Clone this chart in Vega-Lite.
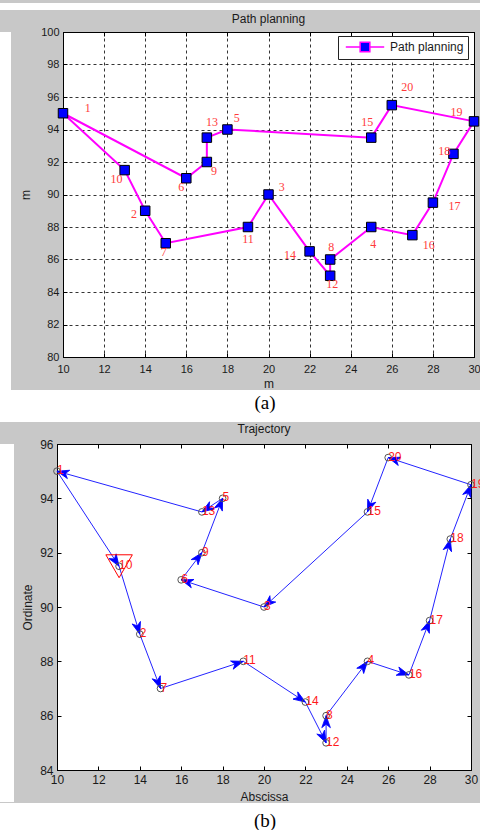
{
  "$schema": "https://vega.github.io/schema/vega-lite/v6.json",
  "background": "#c8c8c8",
  "padding": 0,
  "spacing": 0,
  "config": {
    "concat": {"spacing": 0},
    "view": {"stroke": "black"},
    "axis": {"labelFont": "Liberation Sans", "titleFont": "Liberation Sans", "labelColor": "#1a1a1a", "titleColor": "#1a1a1a", "titleFontWeight": "normal", "domainColor": "black", "tickColor": "black", "labelFlush": false, "labelOverlap": false},
    "title": {"font": "Liberation Sans", "fontWeight": "normal", "fontSize": 12, "color": "#1a1a1a"}
  },
  "datasets": {
    "pts": [
      {"id": "1", "x": 10, "y": 95, "lx": 11.2, "ly": 95.3},
      {"id": "2", "x": 14, "y": 89, "lx": 13.45, "ly": 88.8},
      {"id": "3", "x": 20, "y": 90, "lx": 20.65, "ly": 90.45},
      {"id": "4", "x": 25, "y": 88, "lx": 25.1, "ly": 86.95},
      {"id": "5", "x": 18, "y": 94, "lx": 18.45, "ly": 94.7},
      {"id": "6", "x": 16, "y": 91, "lx": 15.75, "ly": 90.45},
      {"id": "7", "x": 15, "y": 87, "lx": 14.9, "ly": 86.45},
      {"id": "8", "x": 23, "y": 86, "lx": 23.05, "ly": 86.75},
      {"id": "9", "x": 17, "y": 92, "lx": 17.35, "ly": 91.45},
      {"id": "10", "x": 13, "y": 91.5, "lx": 12.6, "ly": 90.95},
      {"id": "11", "x": 19, "y": 88, "lx": 19.0, "ly": 87.25},
      {"id": "12", "x": 23, "y": 85, "lx": 23.1, "ly": 84.5},
      {"id": "13", "x": 17, "y": 93.5, "lx": 17.25, "ly": 94.45},
      {"id": "14", "x": 22, "y": 86.5, "lx": 21.05, "ly": 86.3},
      {"id": "15", "x": 25, "y": 93.5, "lx": 24.8, "ly": 94.45},
      {"id": "16", "x": 27, "y": 87.5, "lx": 27.8, "ly": 86.9},
      {"id": "17", "x": 28, "y": 89.5, "lx": 29.05, "ly": 89.3},
      {"id": "18", "x": 29, "y": 92.5, "lx": 28.55, "ly": 92.7},
      {"id": "19", "x": 30, "y": 94.5, "lx": 29.15, "ly": 95.1},
      {"id": "20", "x": 26, "y": 95.5, "lx": 26.75, "ly": 96.6}
    ],
    "pathA": [
      {"step": 1, "node": "1", "x": 10, "y": 95, "series": "Path planning"},
      {"step": 2, "node": "10", "x": 13, "y": 91.5, "series": "Path planning"},
      {"step": 3, "node": "2", "x": 14, "y": 89, "series": "Path planning"},
      {"step": 4, "node": "7", "x": 15, "y": 87, "series": "Path planning"},
      {"step": 5, "node": "11", "x": 19, "y": 88, "series": "Path planning"},
      {"step": 6, "node": "3", "x": 20, "y": 90, "series": "Path planning"},
      {"step": 7, "node": "14", "x": 22, "y": 86.5, "series": "Path planning"},
      {"step": 8, "node": "12", "x": 23, "y": 85, "series": "Path planning"},
      {"step": 9, "node": "8", "x": 23, "y": 86, "series": "Path planning"},
      {"step": 10, "node": "4", "x": 25, "y": 88, "series": "Path planning"},
      {"step": 11, "node": "16", "x": 27, "y": 87.5, "series": "Path planning"},
      {"step": 12, "node": "17", "x": 28, "y": 89.5, "series": "Path planning"},
      {"step": 13, "node": "18", "x": 29, "y": 92.5, "series": "Path planning"},
      {"step": 14, "node": "19", "x": 30, "y": 94.5, "series": "Path planning"},
      {"step": 15, "node": "20", "x": 26, "y": 95.5, "series": "Path planning"},
      {"step": 16, "node": "15", "x": 25, "y": 93.5, "series": "Path planning"},
      {"step": 17, "node": "5", "x": 18, "y": 94, "series": "Path planning"},
      {"step": 18, "node": "13", "x": 17, "y": 93.5, "series": "Path planning"},
      {"step": 19, "node": "9", "x": 17, "y": 92, "series": "Path planning"},
      {"step": 20, "node": "6", "x": 16, "y": 91, "series": "Path planning"},
      {"step": 21, "node": "1", "x": 10, "y": 95, "series": "Path planning"}
    ],
    "segs": [
      {"from": "1", "to": "10", "x": 10, "y": 95, "x2": 13, "y2": 91.5},
      {"from": "10", "to": "2", "x": 13, "y": 91.5, "x2": 14, "y2": 89},
      {"from": "2", "to": "7", "x": 14, "y": 89, "x2": 15, "y2": 87},
      {"from": "7", "to": "11", "x": 15, "y": 87, "x2": 19, "y2": 88},
      {"from": "11", "to": "14", "x": 19, "y": 88, "x2": 22, "y2": 86.5},
      {"from": "14", "to": "12", "x": 22, "y": 86.5, "x2": 23, "y2": 85},
      {"from": "12", "to": "8", "x": 23, "y": 85, "x2": 23, "y2": 86},
      {"from": "8", "to": "4", "x": 23, "y": 86, "x2": 25, "y2": 88},
      {"from": "4", "to": "16", "x": 25, "y": 88, "x2": 27, "y2": 87.5},
      {"from": "16", "to": "17", "x": 27, "y": 87.5, "x2": 28, "y2": 89.5},
      {"from": "17", "to": "18", "x": 28, "y": 89.5, "x2": 29, "y2": 92.5},
      {"from": "18", "to": "19", "x": 29, "y": 92.5, "x2": 30, "y2": 94.5},
      {"from": "19", "to": "20", "x": 30, "y": 94.5, "x2": 26, "y2": 95.5},
      {"from": "20", "to": "15", "x": 26, "y": 95.5, "x2": 25, "y2": 93.5},
      {"from": "15", "to": "3", "x": 25, "y": 93.5, "x2": 20, "y2": 90},
      {"from": "3", "to": "6", "x": 20, "y": 90, "x2": 16, "y2": 91},
      {"from": "6", "to": "9", "x": 16, "y": 91, "x2": 17, "y2": 92},
      {"from": "9", "to": "5", "x": 17, "y": 92, "x2": 18, "y2": 94},
      {"from": "5", "to": "13", "x": 18, "y": 94, "x2": 17, "y2": 93.5},
      {"from": "13", "to": "1", "x": 17, "y": 93.5, "x2": 10, "y2": 95}
    ],
    "start": [{"id": "10", "x": 13, "y": 91.5}],
    "capA": [{"c": "(a)"}],
    "capB": [{"c": "(b)"}],
    "blank": [{"c": ""}]
  },
  "vconcat": [
    {
      "width": 480, "height": 7,
      "view": {"fill": "white", "stroke": null},
      "data": {"name": "blank"},
      "mark": {"type": "text"},
      "encoding": {"text": {"field": "c"}}
    },
    {
      "spacing": 8,
      "hconcat": [
        {
          "width": 11, "height": 358,
          "view": {"fill": "white", "stroke": null},
          "data": {"name": "blank"},
          "mark": {"type": "text"},
          "encoding": {"text": {"field": "c"}}
        },
        {
          "width": 411, "height": 325,
          "title": {"text": "Path planning", "offset": 0},
          "view": {"fill": "white", "stroke": "black"},
          "resolve": {"axis": {"x": "independent", "y": "independent"}},
          "layer": [
            {
              "data": {"name": "pathA"},
              "mark": {"type": "line", "color": "#ff00ff", "strokeWidth": 2},
              "encoding": {
                "x": {"field": "x", "type": "quantitative", "scale": {"domain": [10, 30], "nice": false, "zero": false},
                  "axis": {"orient": "bottom", "values": [10, 12, 14, 16, 18, 20, 22, 24, 26, 28, 30], "grid": true, "gridColor": "black", "gridDash": [3, 3], "gridOpacity": 1, "gridWidth": 0.8, "tickSize": -4, "labelPadding": 10, "labelFontSize": 11, "title": "m", "titleFontSize": 12, "titlePadding": 4}},
                "y": {"field": "y", "type": "quantitative", "scale": {"domain": [80, 100], "nice": false, "zero": false},
                  "axis": {"orient": "left", "values": [80, 82, 84, 86, 88, 90, 92, 94, 96, 98, 100], "grid": true, "gridColor": "black", "gridDash": [3, 3], "gridOpacity": 1, "gridWidth": 0.8, "tickSize": -4, "labelPadding": 8, "labelFontSize": 11, "title": "m", "titleFontSize": 12, "titlePadding": 8}},
                "order": {"field": "step", "type": "quantitative"},
                "color": {"field": "series", "type": "nominal", "scale": {"range": ["#ff00ff"]},
                  "legend": {"orient": "none", "legendX": 338, "legendY": 33, "title": null, "fillColor": "white", "strokeColor": "#222222", "padding": 4, "symbolType": "M-3.2,0H-0.8M0.8,0H3.2M-0.8,-0.8H0.8V0.8H-0.8Z", "symbolSize": 144, "symbolStrokeWidth": 1.6, "symbolOffset": 16, "labelOffset": 18, "labelFontSize": 12, "labelFont": "Liberation Sans", "labelColor": "#1a1a1a",
                    "encode": {"symbols": {"update": {"fill": {"value": "#0000ff"}, "stroke": {"value": "#ff00ff"}, "opacity": {"value": 1}, "fillOpacity": {"value": 1}}}}}}
              }
            },
            {
              "data": {"name": "pts"},
              "mark": {"type": "point", "shape": "square", "filled": true, "fill": "#0000ff", "stroke": "black", "strokeWidth": 1, "size": 90, "opacity": 1},
              "encoding": {
                "x": {"field": "x", "type": "quantitative", "scale": {"domain": [10, 30], "nice": false, "zero": false}, "axis": null},
                "y": {"field": "y", "type": "quantitative", "scale": {"domain": [80, 100], "nice": false, "zero": false}, "axis": null}
              }
            },
            {
              "data": {"name": "pts"},
              "mark": {"type": "text", "font": "Liberation Serif", "fontSize": 12, "color": "#ff3b3b"},
              "encoding": {
                "x": {"field": "lx", "type": "quantitative", "scale": {"domain": [10, 30], "nice": false, "zero": false},
                  "axis": {"orient": "top", "values": [10, 12, 14, 16, 18, 20, 22, 24, 26, 28, 30], "labels": false, "grid": false, "tickSize": -4, "title": null, "domain": true}},
                "y": {"field": "ly", "type": "quantitative", "scale": {"domain": [80, 100], "nice": false, "zero": false},
                  "axis": {"orient": "right", "values": [80, 82, 84, 86, 88, 90, 92, 94, 96, 98, 100], "labels": false, "grid": false, "tickSize": -4, "title": null, "domain": true}},
                "text": {"field": "id"}
              }
            }
          ]
        }
      ]
    },
    {
      "width": 480, "height": 32,
      "view": {"fill": "white", "stroke": null},
      "data": {"name": "capA"},
      "mark": {"type": "text", "font": "Liberation Serif", "fontSize": 19, "color": "black", "dx": 25, "dy": -3},
      "encoding": {"text": {"field": "c"}}
    },
    {
      "spacing": 6,
      "hconcat": [
        {
          "width": 14, "height": 358,
          "view": {"fill": "white", "stroke": null},
          "data": {"name": "blank"},
          "mark": {"type": "text"},
          "encoding": {"text": {"field": "c"}}
        },
        {
          "width": 414, "height": 326,
          "title": {"text": "Trajectory", "offset": 2},
          "view": {"fill": "white", "stroke": "black"},
          "resolve": {"axis": {"x": "independent", "y": "independent"}},
          "layer": [
            {
              "data": {"name": "segs"},
              "mark": {"type": "rule", "color": "#2323ff", "strokeWidth": 1},
              "encoding": {
                "x": {"field": "x", "type": "quantitative", "scale": {"domain": [10, 30], "nice": false, "zero": false},
                  "axis": {"orient": "bottom", "values": [10, 12, 14, 16, 18, 20, 22, 24, 26, 28, 30], "grid": false, "tickSize": -4, "labelPadding": 8, "labelFontSize": 12, "title": "Abscissa", "titleFontSize": 12, "titlePadding": 6}},
                "y": {"field": "y", "type": "quantitative", "scale": {"domain": [84, 96], "nice": false, "zero": false},
                  "axis": {"orient": "left", "values": [84, 86, 88, 90, 92, 94, 96], "grid": false, "tickSize": -4, "labelPadding": 8, "labelFontSize": 12, "title": "Ordinate", "titleFontSize": 12, "titlePadding": 5.5}},
                "x2": {"field": "x2"},
                "y2": {"field": "y2"}
              }
            },
            {
              "data": {"name": "segs"},
              "transform": [{"calculate": "atan2((datum.x2 - datum.x) * 20.7, (datum.y2 - datum.y) * 27.17) * 180 / PI", "as": "ang"}],
              "mark": {"type": "point", "shape": "M0,0L-0.36,1L0,0.72L0.36,1Z", "filled": true, "fill": "#0000ff", "stroke": "#0000ff", "strokeWidth": 0.8, "size": 576, "opacity": 1},
              "encoding": {
                "x": {"field": "x2", "type": "quantitative", "scale": {"domain": [10, 30], "nice": false, "zero": false}, "axis": null},
                "y": {"field": "y2", "type": "quantitative", "scale": {"domain": [84, 96], "nice": false, "zero": false}, "axis": null},
                "angle": {"field": "ang", "type": "quantitative", "scale": null}
              }
            },
            {
              "data": {"name": "pts"},
              "mark": {"type": "point", "shape": "circle", "filled": false, "stroke": "#555555", "strokeWidth": 1, "size": 45, "opacity": 1},
              "encoding": {
                "x": {"field": "x", "type": "quantitative", "scale": {"domain": [10, 30], "nice": false, "zero": false}, "axis": null},
                "y": {"field": "y", "type": "quantitative", "scale": {"domain": [84, 96], "nice": false, "zero": false}, "axis": null}
              }
            },
            {
              "data": {"name": "start"},
              "mark": {"type": "point", "shape": "triangle-down", "filled": false, "stroke": "#ff0000", "strokeWidth": 1, "size": 700, "opacity": 1},
              "encoding": {
                "x": {"field": "x", "type": "quantitative", "scale": {"domain": [10, 30], "nice": false, "zero": false}, "axis": null},
                "y": {"field": "y", "type": "quantitative", "scale": {"domain": [84, 96], "nice": false, "zero": false}, "axis": null}
              }
            },
            {
              "data": {"name": "pts"},
              "mark": {"type": "text", "font": "Liberation Sans", "fontSize": 12, "color": "#ff1a1a", "align": "left", "baseline": "middle", "dx": 0, "dy": -1},
              "encoding": {
                "x": {"field": "x", "type": "quantitative", "scale": {"domain": [10, 30], "nice": false, "zero": false},
                  "axis": {"orient": "top", "values": [10, 12, 14, 16, 18, 20, 22, 24, 26, 28, 30], "labels": false, "grid": false, "tickSize": -4, "title": null, "domain": true}},
                "y": {"field": "y", "type": "quantitative", "scale": {"domain": [84, 96], "nice": false, "zero": false},
                  "axis": {"orient": "right", "values": [84, 86, 88, 90, 92, 94, 96], "labels": false, "grid": false, "tickSize": -4, "title": null, "domain": true}},
                "text": {"field": "id"}
              }
            }
          ]
        }
      ]
    },
    {
      "width": 480, "height": 30,
      "view": {"fill": "white", "stroke": null},
      "data": {"name": "capB"},
      "mark": {"type": "text", "font": "Liberation Serif", "fontSize": 19, "color": "black", "dx": 25, "dy": 3},
      "encoding": {"text": {"field": "c"}}
    }
  ]
}
